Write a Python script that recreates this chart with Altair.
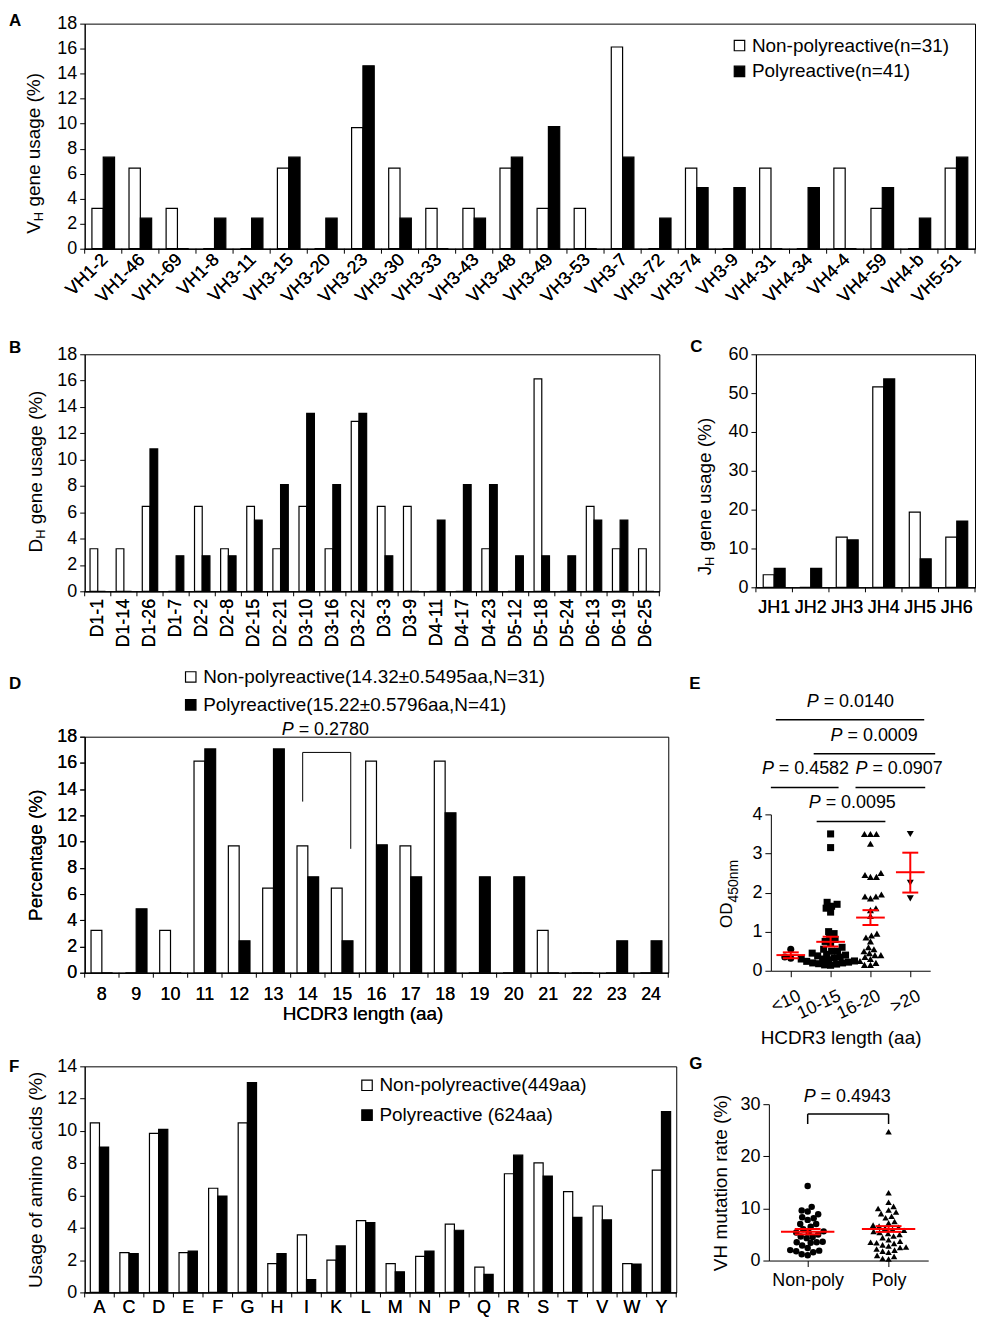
import json
import altair as alt
import pandas as pd

FONT = "Liberation Sans"
RED = "#ff0000"

# ============================ DATA ============================
# A: VH gene usage (%)
A_cats = ["VH1-2", "VH1-46", "VH1-69", "VH1-8", "VH3-11", "VH3-15", "VH3-20", "VH3-23",
          "VH3-30", "VH3-33", "VH3-43", "VH3-48", "VH3-49", "VH3-53", "VH3-7", "VH3-72",
          "VH3-74", "VH3-9", "VH4-31", "VH4-34", "VH4-4", "VH4-59", "VH4-b", "VH5-51"]
A_non = [3.23, 6.45, 3.23, 0, 0, 6.45, 0, 9.68, 6.45, 3.23, 3.23, 6.45, 3.23, 3.23, 16.13, 0,
         6.45, 0, 6.45, 0, 6.45, 3.23, 0, 6.45]
A_poly = [7.32, 2.44, 0, 2.44, 2.44, 7.32, 2.44, 14.63, 2.44, 0, 2.44, 7.32, 9.76, 0, 7.32, 2.44,
          4.88, 4.88, 0, 4.88, 0, 4.88, 2.44, 7.32]
A_series = ["Non-polyreactive(n=31)", "Polyreactive(n=41)"]

# B: DH gene usage (%)
B_cats = ["D1-1", "D1-14", "D1-26", "D1-7", "D2-2", "D2-8", "D2-15", "D2-21", "D3-10", "D3-16",
          "D3-22", "D3-3", "D3-9", "D4-11", "D4-17", "D4-23", "D5-12", "D5-18", "D5-24", "D6-13",
          "D6-19", "D6-25"]
B_non = [3.23, 3.23, 6.45, 0, 6.45, 3.23, 6.45, 3.23, 6.45, 3.23, 12.9, 6.45, 6.45, 0, 0, 3.23,
         0, 16.13, 0, 6.45, 3.23, 3.23]
B_poly = [0, 0, 10.81, 2.70, 2.70, 2.70, 5.41, 8.11, 13.51, 8.11, 13.51, 2.70, 0, 5.41, 8.11, 8.11,
          2.70, 2.70, 2.70, 5.41, 5.41, 0]

# C: JH gene usage (%)
C_cats = ["JH1", "JH2", "JH3", "JH4", "JH5", "JH6"]
C_non = [3.23, 0, 12.9, 51.61, 19.35, 12.9]
C_poly = [4.88, 4.88, 12.2, 53.66, 7.32, 17.07]

GROUPS = ["Non-polyreactive", "Polyreactive"]

# D: HCDR3 length distribution (%)
D_cats = ["8", "9", "10", "11", "12", "13", "14", "15", "16", "17", "18", "19", "20", "21", "22", "23", "24"]
D_non = [3.23, 0, 3.23, 16.13, 9.68, 6.45, 9.68, 6.45, 16.13, 9.68, 16.13, 0, 0, 3.23, 0, 0, 0]
D_poly = [0, 4.88, 0, 17.07, 2.44, 17.07, 7.32, 2.44, 9.76, 7.32, 12.2, 7.32, 7.32, 0, 0, 2.44, 2.44]
D_series = ["Non-polyreactive(14.32\u00b10.5495aa,N=31)", "Polyreactive(15.22\u00b10.5796aa,N=41)"]
D_p_label = ["= 0.2780"]
D_p_pos = [5.74, 18.53]          # in category-index units (0 = left edge of "8")
D_br_x = [6.35, 7.75]
D_br_top = 16.8
D_br_ends = [13.05, 9.45]

# E: OD450 by HCDR3 length group
E_groups = ["<10", "10-15", "16-20", ">20"]
E_lt10 = [0.55, 0.35, 0.32]
E_10_15 = [3.5, 3.15, 1.75, 1.7, 1.65, 1.6, 1.5, 1.0, 0.95, 0.85, 0.8, 0.75, 0.7, 0.6, 0.55, 0.5,
           0.5, 0.45, 0.42, 0.4, 0.38, 0.35, 0.33, 0.3, 0.3, 0.28, 0.25, 0.24, 0.22, 0.2, 0.2,
           0.18, 0.17, 0.15, 0.14]
E_16_20 = [3.5, 3.5, 3.5, 3.25, 2.5, 2.45, 2.4, 2.4, 1.95, 1.9, 1.9, 1.85, 1.6, 1.55, 1.4, 0.95,
           0.9, 0.85, 0.75, 0.6, 0.55, 0.5, 0.45, 0.4, 0.4, 0.35, 0.3, 0.25, 0.2, 0.15, 0.15]
E_gt20 = [3.5, 2.25, 1.85]
E_mean = [0.40, 0.74, 1.36, 2.52]
E_lo = [0.32, 0.62, 1.17, 2.0]
E_hi = [0.47, 0.87, 1.55, 3.02]
E_sig_labels = ["= 0.0140", "= 0.0009", "= 0.4582", "= 0.0907", "= 0.0095"]
E_sig_x1 = [-0.375, 0.575, -0.5, 1.625, 0.65]
E_sig_x2 = [3.35, 3.625, 1.2, 3.375, 2.375]
E_sig_y = [6.42, 5.55, 4.69, 4.69, 3.82]
E_sig_tx = [0.4, 1.0, -0.725, 1.625, 0.45]
E_sig_ty = [6.88, 6.01, 5.15, 5.15, 4.28]

# F: amino-acid usage (%)
F_cats = ["A", "C", "D", "E", "F", "G", "H", "I", "K", "L", "M", "N", "P", "Q", "R", "S", "T", "V", "W", "Y"]
F_non = [10.5, 2.46, 9.85, 2.46, 6.45, 10.5, 1.78, 3.56, 2.0, 4.45, 1.78, 2.23, 4.23, 1.56, 7.35,
         8.02, 6.24, 5.35, 1.78, 7.57]
F_poly = [9.0, 2.4, 10.1, 2.56, 5.97, 13.0, 2.4, 0.8, 2.88, 4.33, 1.28, 2.56, 3.85, 1.12, 8.5,
          7.21, 4.65, 4.49, 1.76, 11.2]
F_series = ["Non-polyreactive(449aa)", "Polyreactive (624aa)"]

# G: VH mutation rate (%)
G_groups = ["Non-poly", "Poly"]
G_non = [14.3, 10.3, 9.6, 9.4, 8.9, 8.3, 8.1, 7.8, 7.0, 7.0, 6.5, 6.0, 5.6, 5.4, 5.4, 5.0, 4.6,
         4.5, 4.3, 3.6, 3.5, 3.5, 3.4, 2.9, 2.4, 2.0, 1.9, 1.8, 1.6, 1.2, 1.0]
G_poly = [24.7, 13.0, 11.2, 10.4, 10.0, 9.7, 9.3, 9.0, 8.5, 8.2, 7.5, 7.2, 6.8, 6.6, 6.4, 6.2,
          6.0, 5.8, 5.6, 5.4, 5.2, 5.0, 4.7, 4.4, 4.0, 3.7, 3.5, 3.4, 3.3, 3.0, 2.8, 2.6, 2.5,
          2.2, 2.0, 1.8, 1.6, 1.0, 0.8, 0.4, 0.3]
G_mean = [5.54, 6.05]
G_lo = [5.03, 5.5]
G_hi = [6.05, 6.6]
G_p_label = ["= 0.4943"]
G_p_pos = [-0.05, 31.3]
G_br_top = 28.1
G_br_end = 26.2

# ============================ LAYOUT (page pixels) ============================
ROWS = {1: (8, 325), 2: (328, 660), 3: (660, 1050), 4: (1050, 1315)}
LEFTC = (8, 690)
RIGHTC = (690, 979)

ADV = {"V": 0.667, "D": 0.722, "J": 0.5, "H": 0.722, "O": 0.778, "P": 0.667,
       "4": 0.556, "5": 0.556, "0": 0.556, "n": 0.556, "m": 0.833}


def tw(s, fs):
    return sum(ADV[c] for c in s) * fs


def frame(cols, row, PL, PT):
    x0, x1 = cols
    y0, y1 = ROWS[row]
    return alt.Chart(alt.Data(values=[{"k": 0}])).mark_rect(opacity=0).encode(
        x=alt.value(x0 - PL), x2=alt.value(x1 - PL), y=alt.value(y0 - PT), y2=alt.value(y1 - PT))


def letter(t, pos, PL, PT):
    return alt.Chart(alt.Data(values=[{"t": t}])).mark_text(
        align="left", baseline="middle", fontSize=17, fontWeight="bold", color="black"
    ).encode(x=alt.value(pos[0] - PL), y=alt.value(pos[1] - PT), text="t:N")


def rot_title(main, sub, rest, pos, PL, PT, fs=19, sfs=13, dy=5):
    x, y = pos[0] - PL, pos[1] - PT
    base = alt.Chart(alt.Data(values=[{"a": main, "b": sub, "c": rest}]))
    com = dict(angle=270, align="left", baseline="middle", color="black")
    out = [
        base.mark_text(fontSize=fs, **com).encode(x=alt.value(x), y=alt.value(y), text="a:N"),
        base.mark_text(fontSize=sfs, dx=tw(main, fs), dy=dy, **com).encode(
            x=alt.value(x), y=alt.value(y), text="b:N"),
    ]
    if rest:
        out.append(base.mark_text(fontSize=fs, dx=tw(main, fs) + tw(sub, sfs) + 0.278 * fs, **com).encode(
            x=alt.value(x), y=alt.value(y), text="c:N"))
    return out


def swarm(values, xpx, ypx, d):
    order = sorted(range(len(values)), key=lambda i: values[i])
    placed = []
    offs = [0.0] * len(values)
    for n, i in enumerate(order):
        y = values[i] * ypx
        k = 0
        found = None
        while found is None:
            if k == 0:
                cands = [0.0]
            else:
                cands = [k * 0.5, -k * 0.5] if n % 2 == 0 else [-k * 0.5, k * 0.5]
            for c in cands:
                if all((c - px) ** 2 + (y - py) ** 2 >= d * d for px, py in placed):
                    found = c
                    break
            k += 1
        placed.append((found, y))
        offs[i] = found / xpx
    return offs


def bar_layers(cats, non, poly, series, W, H, ymax, ystep, frac, xaxis, legend, yaxis_extra=None):
    n = len(cats)
    bw = frac * W / n / 2.0          # width of one bar, px
    yk = dict(values=list(range(0, ymax + 1, ystep)), title=None, tickSize=5, labelPadding=3,
              labelFlush=False, labelOverlap=False, orient="left")
    if yaxis_extra:
        yk.update(yaxis_extra)
    xk = dict(title=None, ticks=False, labelOverlap=False, orient="bottom")
    xk.update(xaxis)
    fill = alt.Fill("series:N", sort=series, scale=alt.Scale(domain=series, range=["white", "black"]),
                    legend=legend)
    out = []
    for vals, s, off in ((non, series[0], -bw / 2.0), (poly, series[1], bw / 2.0)):
        df = pd.DataFrame({"cat": cats, "series": [s] * n, "value": vals})
        out.append(alt.Chart(df).mark_bar(stroke="black", strokeWidth=1.2, width=bw, xOffset=off).encode(
            x=alt.X("cat:N", sort=cats, scale=alt.Scale(paddingInner=0, paddingOuter=0),
                    axis=alt.Axis(**xk)),
            y=alt.Y("value:Q", scale=alt.Scale(domain=[0, ymax], nice=False), axis=alt.Axis(**yk)),
            fill=fill,
        ))
    # category-boundary tick marks (Excel style)
    out.append(alt.Chart(pd.DataFrame({"b": list(range(n + 1))})).mark_rule(
        color="black", strokeWidth=1).encode(
        x=alt.X("b:Q", scale=alt.Scale(domain=[0, n], nice=False, zero=False), axis=None),
        y=alt.value(H), y2=alt.value(H + 5)))
    return out


def leg(x, y, rowpad):
    return alt.Legend(orient="none", legendX=x, legendY=y, title=None, symbolType="square",
                      symbolSize=110, symbolStrokeColor="black", symbolStrokeWidth=1.2,
                      labelFontSize=19, labelOffset=3, rowPadding=rowpad, padding=0,
                      direction="vertical", labelLimit=600)


FRAME_VIEW = alt.ViewBackground(stroke="black", strokeWidth=1)

# ---------------- Panel A ----------------
PL, PT, W, H = 84, 20, 894, 226
A = alt.layer(
    frame((8, 979), 1, PL, PT),
    *bar_layers(A_cats, A_non, A_poly, A_series, W, H, 18, 2, 0.61,
                dict(labelAngle=-45, labelAlign="right", labelBaseline="middle", labelPadding=8,
                     labelOffset=2),
                leg(648, 12.5, 6)),
    *rot_title("V", "H", "gene usage (%)", (33, 231), PL, PT),
    letter("A", (8, 17), PL, PT),
).resolve_scale(x="independent").properties(width=W, height=H, view=FRAME_VIEW)

# ---------------- Panel B ----------------
PL, PT, W, H = 84, 353, 577, 238
B = alt.layer(
    frame(LEFTC, 2, PL, PT),
    *bar_layers(B_cats, B_non, B_poly, GROUPS, W, H, 18, 2, 0.59,
                dict(labelAngle=-90, labelAlign="right", labelBaseline="middle", labelPadding=7), None),
    *rot_title("D", "H", "gene usage (%)", (35, 552), PL, PT),
    letter("B", (8, 347), PL, PT),
).resolve_scale(x="independent").properties(width=W, height=H, view=FRAME_VIEW)

# ---------------- Panel C ----------------
PL, PT, W, H = 756, 353, 220, 234
C = alt.layer(
    frame(RIGHTC, 2, PL, PT),
    *bar_layers(C_cats, C_non, C_poly, GROUPS, W, H, 60, 10, 0.6,
                dict(labelAngle=0, labelAlign="center", labelBaseline="top", labelPadding=11), None),
    *rot_title("J", "H", "gene usage (%)", (705, 575), PL, PT),
    letter("C", (690, 346), PL, PT),
).resolve_scale(x="independent").properties(width=W, height=H, view=FRAME_VIEW)

# ---------------- Panel D ----------------
PL, PT, W, H = 84, 735, 586, 237
nD = len(D_cats)
dx_scale = alt.Scale(domain=[0, nD], nice=False, zero=False)
dy_scale = alt.Scale(domain=[0, 18], nice=False, zero=False)
D_br = pd.DataFrame({"x1": [D_br_x[0], D_br_x[0], D_br_x[1]],
                     "x2": [D_br_x[1], D_br_x[0], D_br_x[1]],
                     "y1": [D_br_top, D_br_top, D_br_top],
                     "y2": [D_br_top, D_br_ends[0], D_br_ends[1]]})
D_pt = pd.DataFrame({"px": [D_p_pos[0]], "py": [D_p_pos[1]], "label": D_p_label})
D_bracket = alt.Chart(D_br).mark_rule(color="black", strokeWidth=1).encode(
    x=alt.X("x1:Q", scale=dx_scale, axis=None), x2="x2:Q",
    y=alt.Y("y1:Q", scale=dy_scale, axis=None), y2="y2:Q")
D_P = alt.Chart(D_pt).mark_text(text="P", fontStyle="italic", fontSize=18, align="left",
                                baseline="middle", color="black").encode(
    x=alt.X("px:Q", scale=dx_scale, axis=None), y=alt.Y("py:Q", scale=dy_scale, axis=None))
D_Ptxt = alt.Chart(D_pt).mark_text(fontSize=18, align="left", baseline="middle", dx=17,
                                   color="black").encode(
    x=alt.X("px:Q", scale=dx_scale, axis=None), y=alt.Y("py:Q", scale=dy_scale, axis=None),
    text="label:N")
D = alt.layer(
    frame(LEFTC, 3, PL, PT),
    *bar_layers(D_cats, D_non, D_poly, D_series, W, H, 18, 2, 0.63,
                dict(labelAngle=0, labelAlign="center", labelBaseline="top", labelPadding=13,
                     title="HCDR3 length (aa)", titleY=41, titleX=279, titleBaseline="middle"),
                leg(97, -69.5, 8),
                dict(title="Percentage (%)", titlePadding=11)),
    D_bracket, D_P, D_Ptxt,
    letter("D", (8, 682), PL, PT),
).resolve_scale(x="independent", y="independent").properties(width=W, height=H, view=FRAME_VIEW)

# ---------------- Panel E ----------------
# plot area shares its top with panel D; the data rectangle is the lower 157 px
PL, PT, W, H = 772, 735, 160, 235
ex = alt.Scale(domain=[-0.5, 3.5], nice=False, zero=False)
ey = alt.Scale(domain=[0, 4], nice=False, zero=False, range=[H, H - 157])
E_rows = []
for gi, (g, vals) in enumerate(zip(E_groups, [E_lt10, E_10_15, E_16_20, E_gt20])):
    offs = swarm(vals, 40.0, 39.25, 5.8)
    for v, o in zip(vals, offs):
        E_rows.append({"group": g, "od": v, "xpos": gi + o})
E_df = pd.DataFrame(E_rows)
E_stat = pd.DataFrame({"gi": list(range(len(E_groups))), "mean": E_mean, "lo": E_lo, "hi": E_hi})
E_sig = pd.DataFrame({"x1": E_sig_x1, "x2": E_sig_x2, "y": E_sig_y, "tx": E_sig_tx,
                      "ty": E_sig_ty, "label": E_sig_labels})
E_label_expr = json.dumps(E_groups) + "[datum.value]"
E_points = alt.Chart(E_df).mark_point(filled=True, opacity=1, size=50, color="black").encode(
    x=alt.X("xpos:Q", scale=ex, axis=alt.Axis(
        values=[0, 1, 2, 3], labelExpr=E_label_expr, labelAngle=-25, labelAlign="right",
        labelBaseline="top", labelPadding=10, labelOffset=5, tickSize=6, labelFlush=False,
        labelOverlap=False, title="HCDR3 length (aa)", titleY=67, titleX=70,
        titleBaseline="middle", orient="bottom")),
    y=alt.Y("od:Q", scale=ey, axis=alt.Axis(values=[0, 1, 2, 3, 4], tickSize=6, labelPadding=3,
                                            labelFlush=False, labelOverlap=False, title=None,
                                            orient="left")),
    shape=alt.Shape("group:N", scale=alt.Scale(domain=E_groups,
                                               range=["circle", "square", "triangle-up", "triangle-down"]),
                    legend=None),
)
E_meanl = alt.Chart(E_stat).transform_calculate(xa="datum.gi - 0.36", xb="datum.gi + 0.36").mark_rule(
    color=RED, strokeWidth=2).encode(
    x=alt.X("xa:Q", scale=ex, axis=None), x2="xb:Q", y=alt.Y("mean:Q", scale=ey, axis=None))
E_caps = alt.Chart(E_stat).transform_calculate(xa="datum.gi - 0.2", xb="datum.gi + 0.2").transform_fold(
    ["lo", "hi"], as_=["k", "v"]).mark_rule(color=RED, strokeWidth=2).encode(
    x=alt.X("xa:Q", scale=ex, axis=None), x2="xb:Q", y=alt.Y("v:Q", scale=ey, axis=None))
E_vert = alt.Chart(E_stat).mark_rule(color=RED, strokeWidth=2).encode(
    x=alt.X("gi:Q", scale=ex, axis=None), y=alt.Y("lo:Q", scale=ey, axis=None), y2="hi:Q")
E_sigl = alt.Chart(E_sig).mark_rule(color="black", strokeWidth=1.5).encode(
    x=alt.X("x1:Q", scale=ex, axis=None), x2="x2:Q", y=alt.Y("y:Q", scale=ey, axis=None))
E_sigP = alt.Chart(E_sig).mark_text(text="P", fontStyle="italic", fontSize=18, align="left",
                                    baseline="middle", color="black").encode(
    x=alt.X("tx:Q", scale=ex, axis=None), y=alt.Y("ty:Q", scale=ey, axis=None))
E_sigT = alt.Chart(E_sig).mark_text(fontSize=18, align="left", baseline="middle", dx=17,
                                    color="black").encode(
    x=alt.X("tx:Q", scale=ex, axis=None), y=alt.Y("ty:Q", scale=ey, axis=None), text="label:N")
E = alt.layer(
    frame(RIGHTC, 3, PL, PT),
    E_points, E_meanl, E_caps, E_vert, E_sigl, E_sigP, E_sigT,
    *rot_title("OD", "450nm", "", (728, 927), PL, PT, fs=17, sfs=14, dy=7),
    letter("E", (690, 682), PL, PT),
).resolve_scale(x="independent", y="independent").properties(width=W, height=H)

# ---------------- Panel F ----------------
PL, PT, W, H = 84, 1064, 594, 227
F = alt.layer(
    frame(LEFTC, 4, PL, PT),
    *bar_layers(F_cats, F_non, F_poly, F_series, W, H, 14, 2, 0.62,
                dict(labelAngle=0, labelAlign="center", labelBaseline="top", labelPadding=6),
                leg(274, 9.5, 10),
                dict(title="Usage of amino acids (%)", titlePadding=11)),
    letter("F", (8, 1065), PL, PT),
).resolve_scale(x="independent").properties(width=W, height=H, view=FRAME_VIEW)

# ---------------- Panel G ----------------
# plot area shares its top with panel F; the data rectangle is the lower 157 px
PL, PT, W, H = 770, 1064, 160, 195
gx = alt.Scale(domain=[-0.48, 1.49], nice=False, zero=False)
gy = alt.Scale(domain=[0, 30], nice=False, zero=False, range=[H, H - 157])
G_rows = []
for gi, (g, vals) in enumerate(zip(G_groups, [G_non, G_poly])):
    offs = swarm(vals, 81.0, 157.0 / 30.0, 6.0)
    for v, o in zip(vals, offs):
        G_rows.append({"group": g, "rate": v, "xpos": gi + o})
G_df = pd.DataFrame(G_rows)
G_stat = pd.DataFrame({"gi": list(range(len(G_groups))), "mean": G_mean, "lo": G_lo, "hi": G_hi})
G_br = pd.DataFrame({"x1": [0, 0, 1], "x2": [1, 0, 1],
                     "y1": [G_br_top, G_br_end, G_br_end], "y2": [G_br_top, G_br_top, G_br_top]})
G_pt = pd.DataFrame({"px": [G_p_pos[0]], "py": [G_p_pos[1]], "label": G_p_label})
G_label_expr = json.dumps(G_groups) + "[datum.value]"
G_points = alt.Chart(G_df).mark_point(filled=True, opacity=1, size=42, color="black").encode(
    x=alt.X("xpos:Q", scale=gx, axis=alt.Axis(
        values=[0, 1], labelExpr=G_label_expr, labelAngle=0, labelAlign="center",
        labelBaseline="top", labelPadding=5, tickSize=6, labelFlush=False, labelOverlap=False,
        title=None, orient="bottom")),
    y=alt.Y("rate:Q", scale=gy, axis=alt.Axis(values=[0, 10, 20, 30], tickSize=6, labelPadding=3,
                                              labelFlush=False, labelOverlap=False,
                                              title="VH mutation rate (%)", titlePadding=10,
                                              titleY=H - 78.5, orient="left")),
    shape=alt.Shape("group:N", scale=alt.Scale(domain=G_groups, range=["circle", "triangle-up"]),
                    legend=None),
)
G_meanl = alt.Chart(G_stat).transform_calculate(xa="datum.gi - 0.33", xb="datum.gi + 0.33").mark_rule(
    color=RED, strokeWidth=2).encode(
    x=alt.X("xa:Q", scale=gx, axis=None), x2="xb:Q", y=alt.Y("mean:Q", scale=gy, axis=None))
G_caps = alt.Chart(G_stat).transform_calculate(xa="datum.gi - 0.16", xb="datum.gi + 0.16").transform_fold(
    ["lo", "hi"], as_=["k", "v"]).mark_rule(color=RED, strokeWidth=2).encode(
    x=alt.X("xa:Q", scale=gx, axis=None), x2="xb:Q", y=alt.Y("v:Q", scale=gy, axis=None))
G_vert = alt.Chart(G_stat).mark_rule(color=RED, strokeWidth=2).encode(
    x=alt.X("gi:Q", scale=gx, axis=None), y=alt.Y("lo:Q", scale=gy, axis=None), y2="hi:Q")
G_brk = alt.Chart(G_br).mark_rule(color="black", strokeWidth=1.5).encode(
    x=alt.X("x1:Q", scale=gx, axis=None), x2="x2:Q", y=alt.Y("y1:Q", scale=gy, axis=None), y2="y2:Q")
G_P = alt.Chart(G_pt).mark_text(text="P", fontStyle="italic", fontSize=18, align="left",
                                baseline="middle", color="black").encode(
    x=alt.X("px:Q", scale=gx, axis=None), y=alt.Y("py:Q", scale=gy, axis=None))
G_T = alt.Chart(G_pt).mark_text(fontSize=18, align="left", baseline="middle", dx=17,
                                color="black").encode(
    x=alt.X("px:Q", scale=gx, axis=None), y=alt.Y("py:Q", scale=gy, axis=None), text="label:N")
G = alt.layer(
    frame(RIGHTC, 4, PL, PT),
    G_points, G_meanl, G_caps, G_vert, G_brk, G_P, G_T,
    letter("G", (690, 1062), PL, PT),
).resolve_scale(x="independent", y="independent").properties(width=W, height=H)


# ---------------- assemble ----------------
def row(a, b):
    return alt.hconcat(a, b, spacing=0).resolve_scale(
        x="independent", y="independent", fill="independent", shape="independent").resolve_legend(
        fill="independent", shape="independent")


chart = alt.vconcat(A, row(B, C), row(D, E), row(F, G), spacing=0).resolve_scale(
    x="independent", y="independent", fill="independent", shape="independent").resolve_legend(
    fill="independent", shape="independent").properties(padding=0).configure(
    font=FONT, background="white").configure_axis(
    domainColor="black", tickColor="black", labelColor="black", titleColor="black", grid=False,
    labelFontSize=18, titleFontSize=19, titleFontWeight="normal", labelFont=FONT, titleFont=FONT,
    domainWidth=1, tickWidth=1).configure_legend(labelFont=FONT, labelColor="black").configure_view(
    stroke=None)

chart.save("out.html", embed_options={"renderer": "svg", "actions": False})
